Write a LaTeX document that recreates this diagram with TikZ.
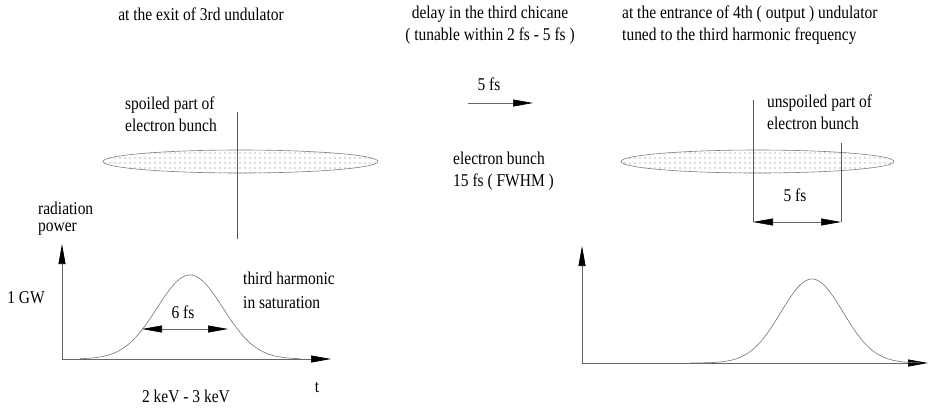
\documentclass[tikz,border=0pt]{standalone}
\usepackage{fontspec}
\setmainfont[FakeStretch=0.86]{Liberation Serif}
\usetikzlibrary{arrows.meta, patterns.meta}

\tikzset{
    lbl/.style={font=\fontsize{18}{22}\selectfont, inner sep=0pt},
    bunch/.style={draw=black!50, line width=0.6pt,
        pattern={Dots[distance=5pt, radius=0.55pt]}, pattern color=black!60},
    marker/.style={draw=black!65, line width=0.6pt},
    pulse/.style={draw=black!55, line width=0.6pt},
    axis/.style={draw=black!60, line width=0.7pt,
        -{Triangle[length=20pt, width=7pt, color=black]}},
    span/.style={draw=black!60, line width=0.6pt,
        {Triangle[length=20pt, width=7pt, color=black]}-{Triangle[length=20pt, width=7pt, color=black]}},
}

\begin{document}
\begin{tikzpicture}[x=1pt, y=-1pt]
    \useasboundingbox (0,0) rectangle (928,408);

    % Left: bunch leaving the 3rd undulator
    \begin{scope}
        \node[lbl] (exit) at (201,14) {at the exit of 3rd undulator};
        \node[lbl, anchor=west, align=left] (spoiled) at (125,114)
            {spoiled part of\\electron bunch};
        \draw[bunch] (240.5,161.5) ellipse [x radius=137.5pt, y radius=11.5pt];
        \coordinate (cuttop) at (237,112);
        \coordinate (cutbot) at (237,239);
        \draw[marker] (cuttop) -- (cutbot);

        % power profile
        \coordinate (o1) at (62,359);
        \coordinate (y1) at (62,244);
        \coordinate (x1) at (331,359);
        \draw[axis] (o1) -- (y1);
        \draw[axis] (o1) -- (x1);
        \draw[pulse] plot[domain=80:300, samples=120]
            (\x, {359-84*exp(-0.5*pow((\x-190)/33,2))});
        \coordinate (wl) at (142,329);
        \coordinate (wr) at (228,329);
        \draw[span] (wl) -- (wr);
        \node[lbl, font=\fontsize{18}{17}\selectfont, align=left, anchor=west] (power) at (38,218.5)
            {radiation\\power};
        \node[lbl] (gw) at (26,298) {1 GW};
        \node[lbl] (six) at (183,312) {6 fs};
        \node[lbl, align=left, anchor=west, font=\fontsize{18}{24}\selectfont] (sat) at (243,290)
            {third harmonic\\in saturation};
        \node[lbl] (kev) at (186,396) {2 keV - 3 keV};
        \node[lbl] (t) at (317,388) {t};
    \end{scope}

    % Middle: the chicane delay
    \begin{scope}
        \node[lbl, align=center] (delay) at (490,25)
            {delay in the third chicane\\( tunable within 2 fs - 5 fs )};
        \node[lbl] (shift) at (489,84) {5 fs};
        \coordinate (ds) at (468,103);
        \coordinate (de) at (533,103);
        \draw[axis, line width=0.6pt] (ds) -- (de);
        \node[lbl, align=left, anchor=west] (fwhm) at (453,171.5)
            {electron bunch\\15 fs ( FWHM )};
    \end{scope}

    % Right: bunch entering the 4th undulator
    \begin{scope}
        \node[lbl, align=left, anchor=west] (entr) at (622,25)
            {at the entrance of 4th ( output ) undulator\\tuned to the third harmonic frequency};
        \node[lbl, anchor=west, align=left] (unspoiled) at (767,112.5)
            {unspoiled part of\\electron bunch};
        \draw[bunch] (757.5,161.5) ellipse [x radius=136.5pt, y radius=11.5pt];
        \coordinate (ltop) at (753,100);
        \coordinate (lbot) at (753,222);
        \coordinate (rtop) at (841,143);
        \coordinate (rbot) at (841,222);
        \draw[marker] (ltop) -- (lbot);
        \draw[marker] (rtop) -- (rbot);
        \draw[span] (lbot) -- (rbot);
        \node[lbl] (five) at (795,195) {5 fs};

        % power profile
        \coordinate (o2) at (582,363);
        \coordinate (y2) at (582,246);
        \coordinate (x2) at (928,363);
        \draw[axis] (o2) -- (y2);
        \draw[axis] (o2) -- (x2);
        \draw[pulse] plot[domain=690:920, samples=120]
            (\x, {363-84*exp(-0.5*pow((\x-812)/31,2))});
    \end{scope}
\end{tikzpicture}
\end{document}
